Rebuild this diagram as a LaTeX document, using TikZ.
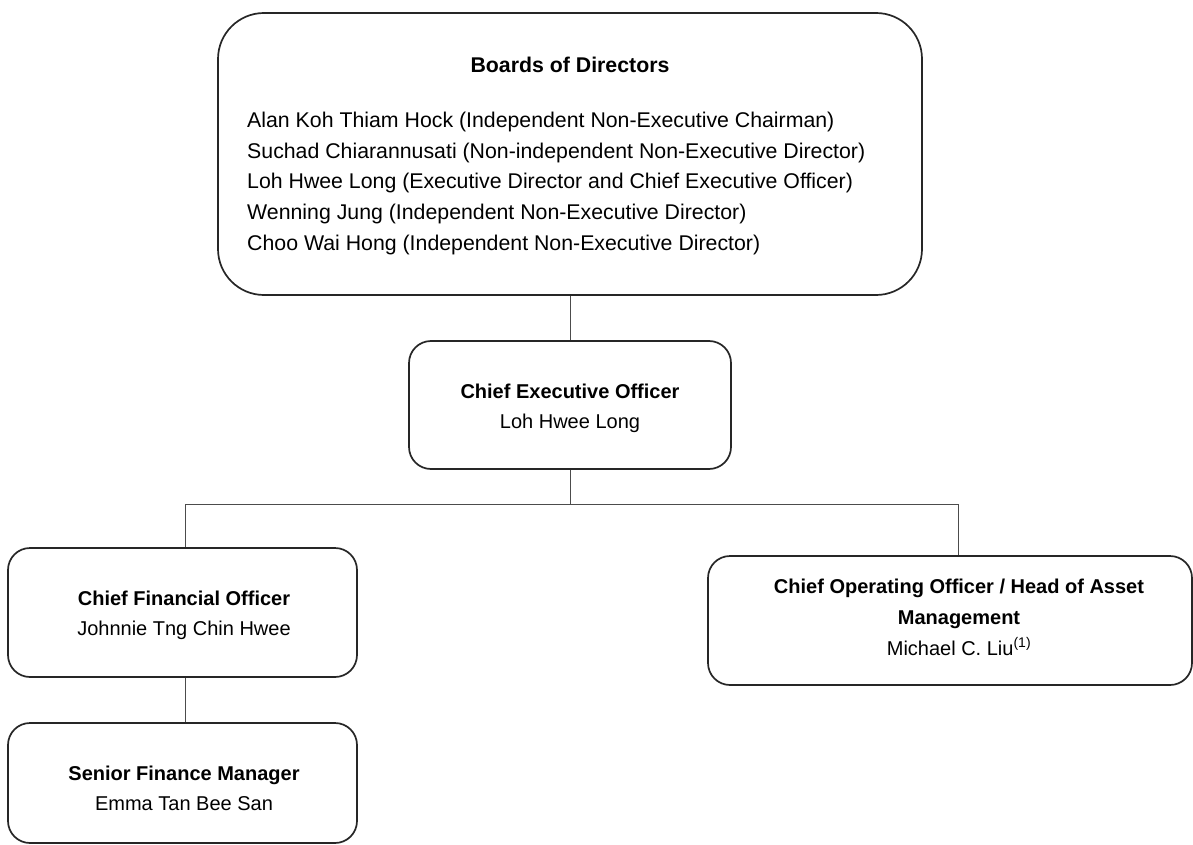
\documentclass[tikz,border=0pt]{standalone}
\usepackage{fontspec}
\setmainfont{Liberation Sans}
\begin{document}
\begin{tikzpicture}[x=1pt,y=-1pt,
  box/.style={draw=black!85,line width=1.7pt,rounded corners=22pt,inner sep=0pt,fill=white},
  bigbox/.style={box,rounded corners=46pt},
  link/.style={draw=black!70,line width=1pt},
  ttl/.style={anchor=base,inner sep=0pt,font=\fontsize{20}{24}\selectfont\bfseries},
  nm/.style={anchor=base,inner sep=0pt,font=\fontsize{20}{24}\selectfont},
  bttl/.style={ttl,font=\fontsize{21.3}{25}\selectfont\bfseries},
  lst/.style={anchor=base west,inner sep=0pt,font=\fontsize{21.3}{25}\selectfont}]
\useasboundingbox (0,0) rectangle (1193,845);

% boxes
\node[bigbox,minimum width=704pt,minimum height=282pt] (board) at (570,154) {};
\node[box,minimum width=322pt,minimum height=128pt] (ceo) at (570,405) {};
\node[box,minimum width=349pt,minimum height=129pt] (cfo) at (182.5,612.5) {};
\node[box,minimum width=349pt,minimum height=120pt] (sfm) at (182.5,783) {};
\node[box,minimum width=484pt,minimum height=129pt] (coo) at (950,620.5) {};

% connectors
\coordinate (split) at (570,504);
\draw[link] (board.south) -- (ceo.north);
\draw[link] (ceo.south) -- (split);
\draw[link] (split) -| ([xshift=2.5pt]cfo.north);
\draw[link] (split) -| ([xshift=8pt]coo.north);
\draw[link] ([xshift=2.5pt]cfo.south) -- ([xshift=2.5pt]sfm.north);

% board text
\node[bttl] (boardtitle) at (570,73) {Boards of Directors};
\node[lst] (d1) at (247,128) {Alan Koh Thiam Hock (Independent Non-Executive Chairman)};
\node[lst] (d2) at (247,158.5) {Suchad Chiarannusati (Non-independent Non-Executive Director)};
\node[lst] (d3) at (247,189) {Loh Hwee Long (Executive Director and Chief Executive Officer)};
\node[lst] (d4) at (247,219.5) {Wenning Jung (Independent Non-Executive Director)};
\node[lst] (d5) at (247,250) {Choo Wai Hong (Independent Non-Executive Director)};

% officers
\node[ttl] (ceot) at (570,398) {Chief Executive Officer};
\node[nm] (ceon) at (570,428) {Loh Hwee Long};

\node[ttl] (cfot) at (184,605) {Chief Financial Officer};
\node[nm] (cfon) at (184,635) {Johnnie Tng Chin Hwee};

\node[ttl] (sfmt) at (184,780) {Senior Finance Manager};
\node[nm] (sfmn) at (184,810) {Emma Tan Bee San};

\node[ttl] (coot1) at (959,593) {Chief Operating Officer / Head of Asset};
\node[ttl] (coot2) at (959,624) {Management};
\node[nm] (coon) at (959,655) {Michael C. Liu\textsuperscript{(1)}};
\end{tikzpicture}
\end{document}
